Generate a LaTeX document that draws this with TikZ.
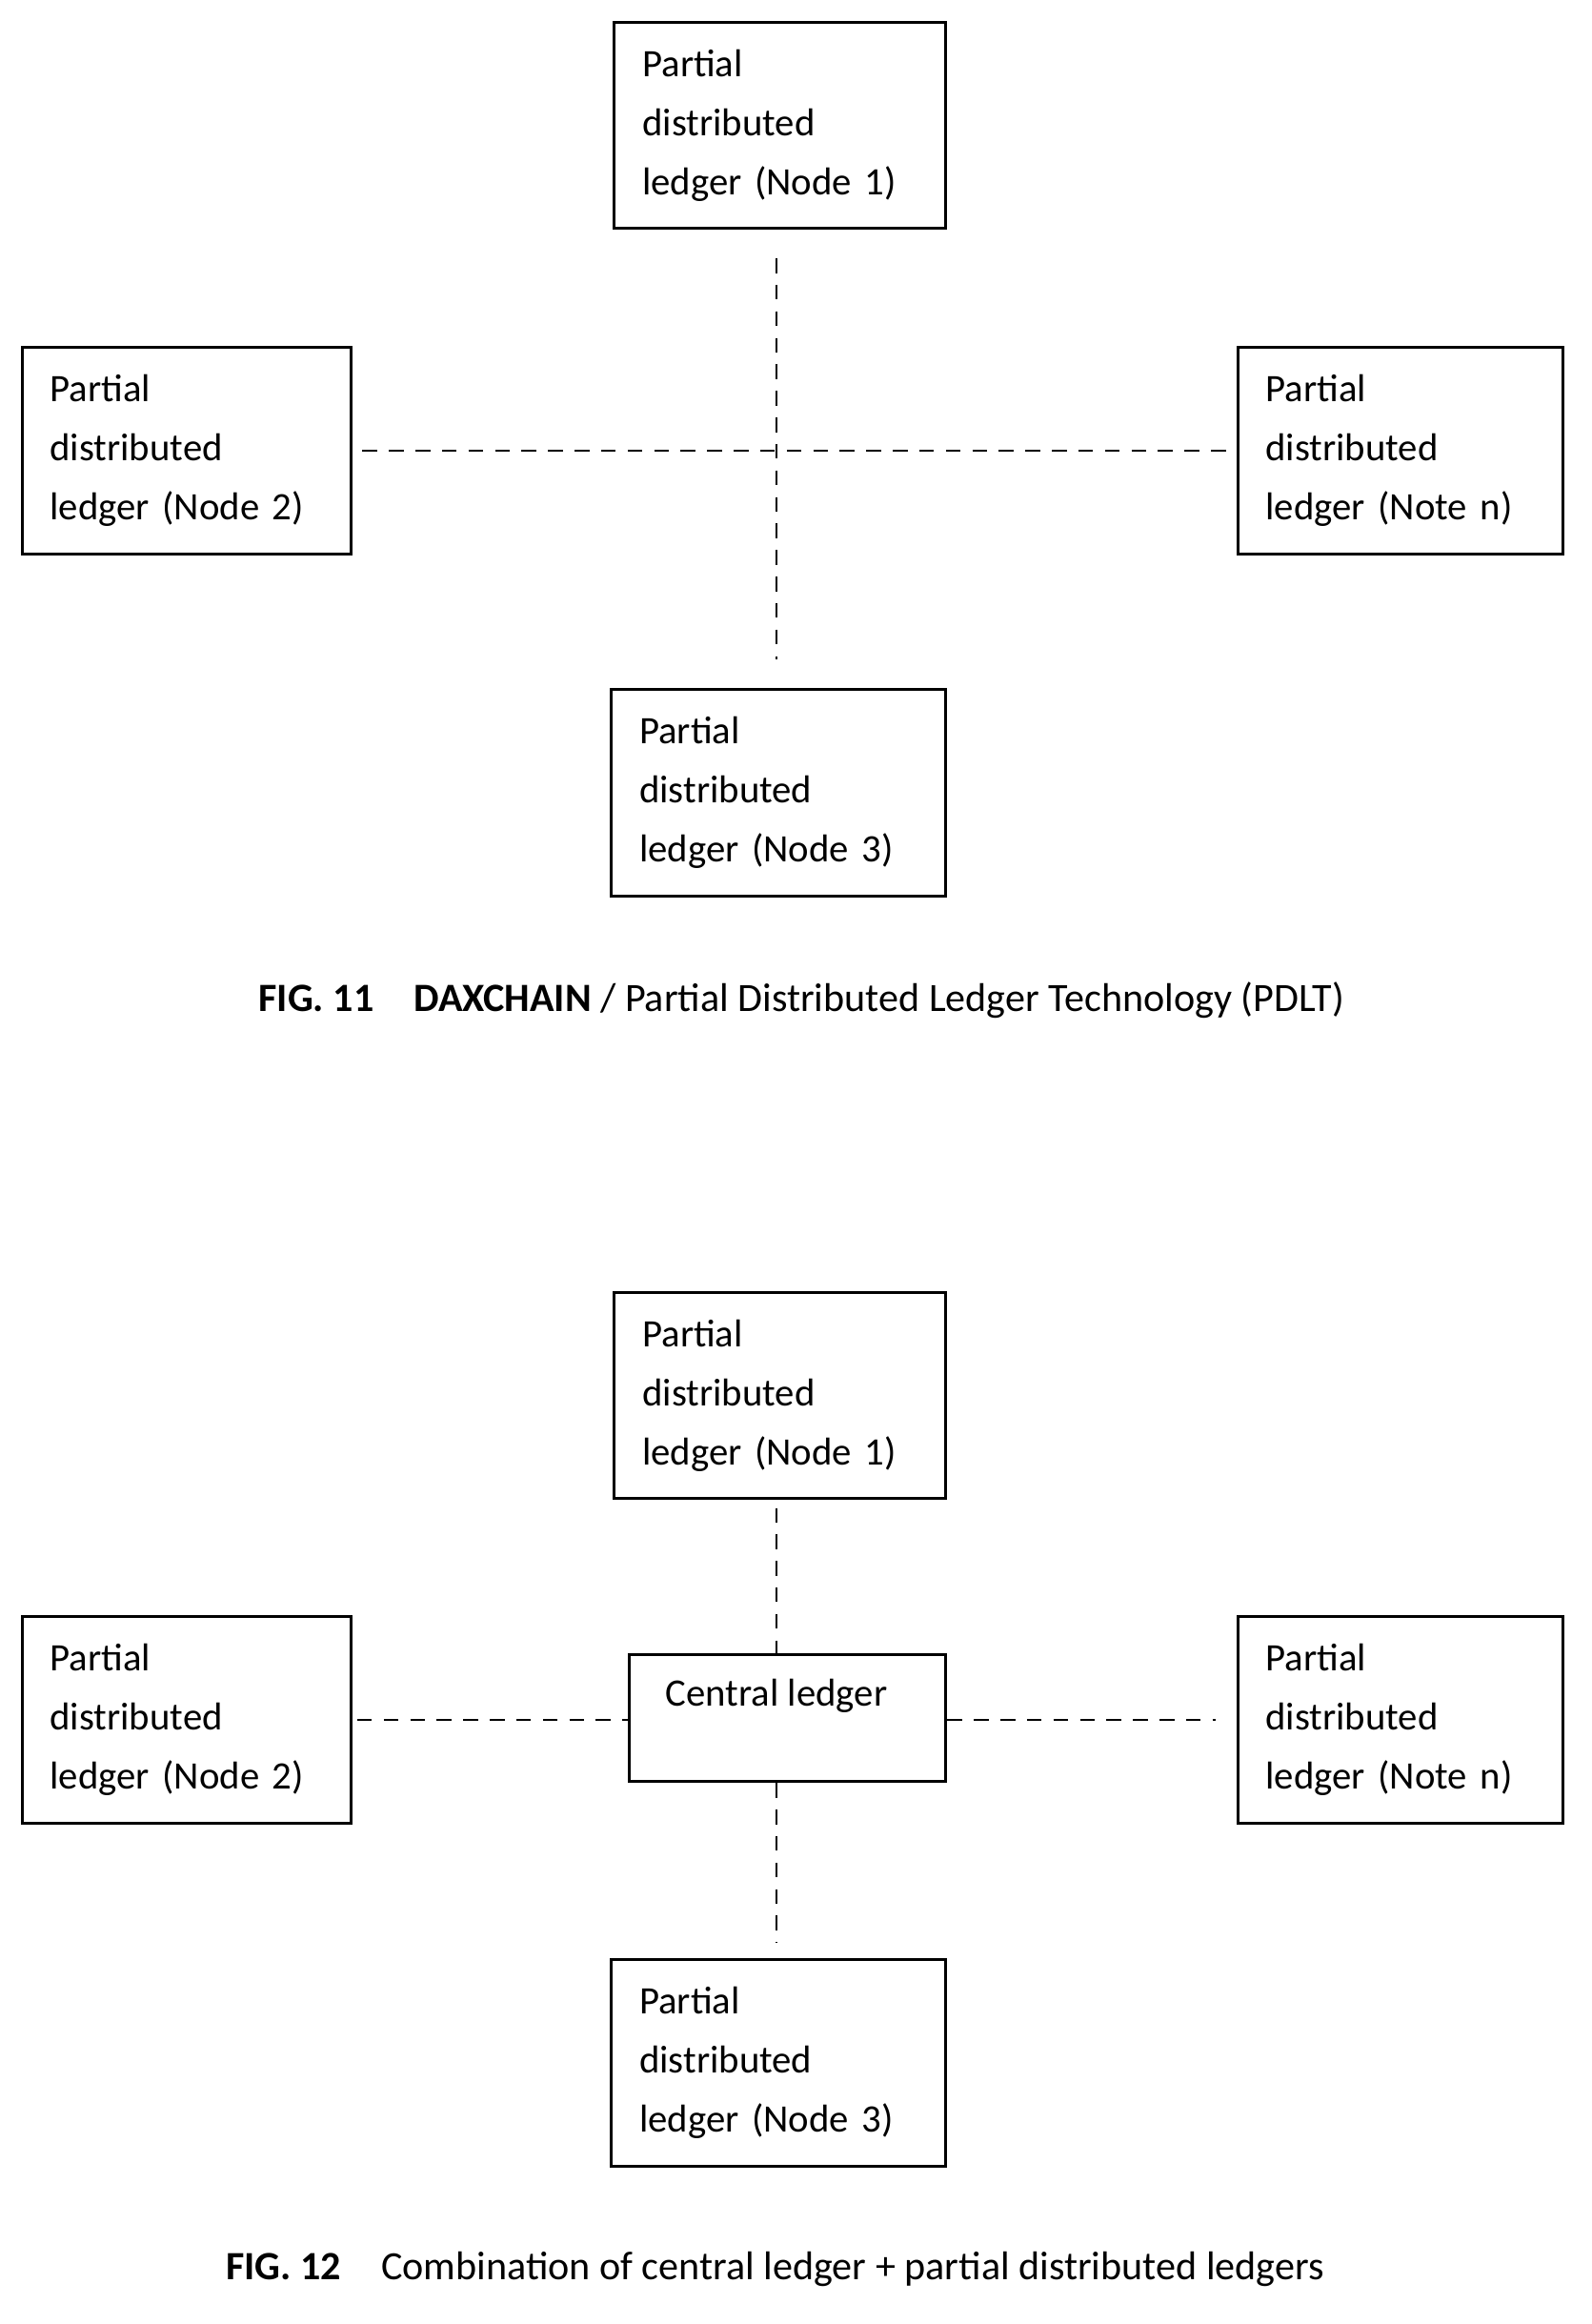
\documentclass[tikz,border=0pt]{standalone}
\usepackage{fontspec}
\setmainfont{Carlito}
\begin{document}
\begin{tikzpicture}[x=0.02cm,y=-0.02cm,
  box/.style={draw,line width=1.1pt,align=left,inner xsep=0.38cm,font=\fontsize{15}{22.8}\selectfont,anchor=north west},
  dashln/.style={line width=0.9pt,dash pattern=on 0.2cm off 0.16cm},
  captxt/.style={font=\fontsize{15.5}{18}\selectfont}]
\useasboundingbox (0,0) rectangle (1080,1577);
\newcommand{\pbox}[6]{\node[box,minimum width=#4*0.02cm,minimum height=140*0.02cm,text width=#4*0.02cm-0.76cm] (#1) at (#2,#3) {Partial\\distributed\\#6};}
% FIG 11
\pbox{a1}{416}{14}{225}{}{ledger (Node 1)}
\pbox{a2}{14}{235}{223}{}{ledger (Node 2)}
\pbox{an}{839}{235}{221}{}{ledger (Note n)}
\pbox{a3}{414}{467}{227}{}{ledger (Node 3)}
\draw[dashln,shorten <=11pt,shorten >=11pt] (a1.south -| 527,0) -- (a3.north -| 527,0);
\draw[dashln,shorten <=4pt,shorten >=4pt] (a2.east) -- (an.west);
\node[captxt] (c11) at (544,679) {\textbf{FIG. 11}\quad\textbf{DAXCHAIN} / Partial Distributed Ledger Technology (PDLT)};
% FIG 12
\pbox{b1}{416}{876}{225}{}{ledger (Node 1)}
\pbox{b2}{14}{1096}{223}{}{ledger (Node 2)}
\pbox{bn}{839}{1096}{221}{}{ledger (Note n)}
\pbox{b3}{414}{1329}{227}{}{ledger (Node 3)}
\node[draw,line width=1.1pt,minimum width=215*0.02cm,minimum height=86*0.02cm,anchor=north west,inner sep=0] (c) at (426,1122) {};
\node[font=\fontsize{15}{18}\selectfont] (ct) at (527,1151) {Central ledger};
\draw[dashln,shorten <=3pt] (b1.south -| 527,0) -- (c.north -| 527,0);
\draw[dashln,shorten >=6pt] (c.south -| 527,0) -- (b3.north -| 527,0);
\draw[dashln,shorten <=2pt] (b2.east |- 0,1167) -- (c.west |- 0,1167);
\draw[dashln,shorten >=8pt] (c.east |- 0,1167) -- (bn.west |- 0,1167);
\node[captxt] (c12) at (526,1540) {\textbf{FIG. 12}\quad Combination of central ledger + partial distributed ledgers};
\end{tikzpicture}
\end{document}
